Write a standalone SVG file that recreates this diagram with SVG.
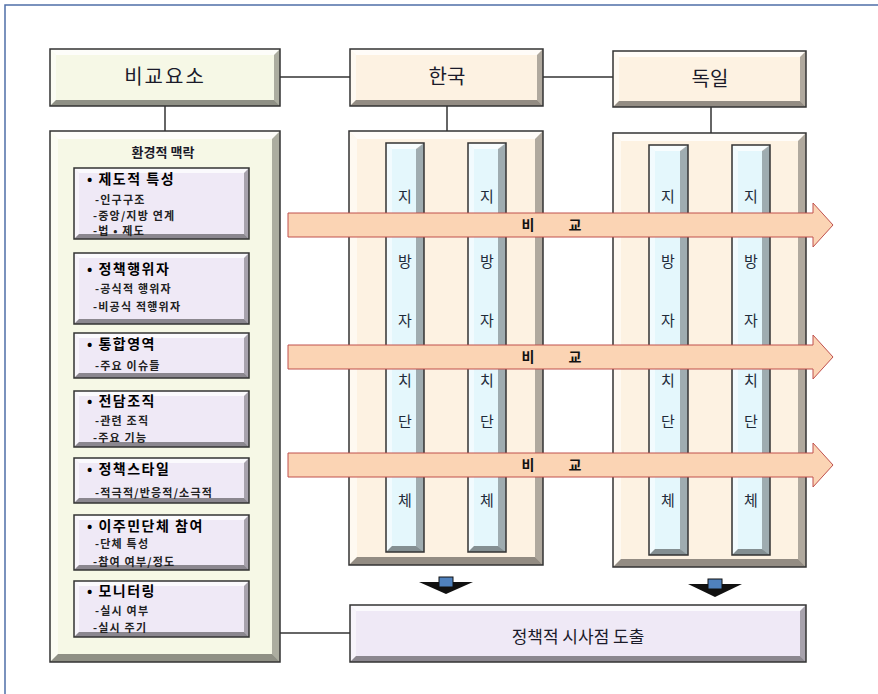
<svg xmlns="http://www.w3.org/2000/svg" width="878" height="694" viewBox="0 0 878 694">
<style>
text{font-family:"Noto Sans CJK KR","Noto Sans",sans-serif;fill:#1b1b2a}
.frame{fill:none;stroke:#4f6fa8;stroke-width:1.5}
.ln{stroke:#333;stroke-width:1.5;fill:none}
.box{stroke:#333;stroke-width:1.5;fill:none}
.t{fill:#fff;opacity:.75}
.l{fill:#fff;opacity:.5}
.r{fill:#000;opacity:.3}
.b{fill:#000;opacity:.42}
.green{fill:#f6f8e6}
.beige{fill:#fdf2e2}
.lav{fill:#efe9f6}
.cyan{fill:#e4f7fc}
.cmp{fill:#fbd4b4;stroke:#c0504d;stroke-width:1}
.h{font-size:20px;text-anchor:middle}
.tt{font-size:14px;font-weight:bold;letter-spacing:1.5px;fill:#000}
.it{font-size:11px;font-weight:bold;letter-spacing:1.2px;fill:#222}
.bar{font-size:15px;text-anchor:middle;fill:#1e2b3a}
.ct{font-size:14px;font-weight:bold;fill:#111}
.stem{fill:#4f81bd;stroke:#111;stroke-width:1}
.head{fill:#111}
</style>
<path class="frame" d="M5,694 V5 H878"/>
<g id="connectors">
<line class="ln" x1="280" y1="77" x2="350" y2="77"/>
<line class="ln" x1="543" y1="77" x2="613" y2="77"/>
<line class="ln" x1="165" y1="106" x2="165" y2="131"/>
<line class="ln" x1="447" y1="106" x2="447" y2="131"/>
<line class="ln" x1="711" y1="107" x2="711" y2="133"/>
<line class="ln" x1="280" y1="633" x2="350" y2="633"/>
<line class="ln" x1="163" y1="239" x2="163" y2="581"/>
</g>
<g id="bigyo">
<rect class="green" x="50" y="49" width="230" height="57"/>
<polygon class="t" points="50,49 280,49 274,55 56,55"/>
<polygon class="l" points="50,49 56,55 56,100 50,106"/>
<polygon class="r" points="280,49 280,106 274,100 274,55"/>
<polygon class="b" points="50,106 280,106 274,100 56,100"/>
<rect class="box" x="50" y="49" width="230" height="57"/>
<text class="h" x="165" y="84" letter-spacing="2">비교요소</text>
</g>
<g id="korea">
<rect class="beige" x="350" y="49" width="193" height="57"/>
<polygon class="t" points="350,49 543,49 537,55 356,55"/>
<polygon class="l" points="350,49 356,55 356,100 350,106"/>
<polygon class="r" points="543,49 543,106 537,100 537,55"/>
<polygon class="b" points="350,106 543,106 537,100 356,100"/>
<rect class="box" x="350" y="49" width="193" height="57"/>
<text class="h" x="447" y="84">한국</text>
</g>
<g id="germany">
<rect class="beige" x="613" y="51" width="193" height="56"/>
<polygon class="t" points="613,51 806,51 800,57 619,57"/>
<polygon class="l" points="613,51 619,57 619,101 613,107"/>
<polygon class="r" points="806,51 806,107 800,101 800,57"/>
<polygon class="b" points="613,107 806,107 800,101 619,101"/>
<rect class="box" x="613" y="51" width="193" height="56"/>
<text class="h" x="710" y="86">독일</text>
</g>
<g id="context">
<rect class="green" x="50" y="131" width="230" height="531"/>
<polygon class="t" points="50,131 280,131 272,139 58,139"/>
<polygon class="l" points="50,131 58,139 58,654 50,662"/>
<polygon class="r" points="280,131 280,662 272,654 272,139"/>
<polygon class="b" points="50,662 280,662 272,654 58,654"/>
<rect class="box" x="50" y="131" width="230" height="531"/>
<text x="163" y="157" font-size="13" font-weight="bold" text-anchor="middle">환경적 맥락</text>
</g>
<g id="s1">
<rect class="lav" x="74" y="168" width="175" height="71"/>
<polygon class="t" points="74,168 249,168 244,173 79,173"/>
<polygon class="l" points="74,168 79,173 79,234 74,239"/>
<polygon class="r" points="249,168 249,239 244,234 244,173"/>
<polygon class="b" points="74,239 249,239 244,234 79,234"/>
<rect class="box" x="74" y="168" width="175" height="71"/>
<text class="tt" x="87" y="184">• 제도적 특성</text>
<text class="it" x="95" y="204">-인구구조</text>
<text class="it" x="93" y="220">-중앙/지방 연계</text>
<text class="it" x="93" y="235">-법 • 제도</text>
</g>
<g id="s2">
<rect class="lav" x="74" y="253" width="175" height="71"/>
<polygon class="t" points="74,253 249,253 244,258 79,258"/>
<polygon class="l" points="74,253 79,258 79,319 74,324"/>
<polygon class="r" points="249,253 249,324 244,319 244,258"/>
<polygon class="b" points="74,324 249,324 244,319 79,319"/>
<rect class="box" x="74" y="253" width="175" height="71"/>
<text class="tt" x="87" y="274">• 정책행위자</text>
<text class="it" x="95" y="293">-공식적 행위자</text>
<text class="it" x="93" y="311">-비공식 적행위자</text>
</g>
<g id="s3">
<rect class="lav" x="74" y="333" width="175" height="45"/>
<polygon class="t" points="74,333 249,333 244,338 79,338"/>
<polygon class="l" points="74,333 79,338 79,373 74,378"/>
<polygon class="r" points="249,333 249,378 244,373 244,338"/>
<polygon class="b" points="74,378 249,378 244,373 79,373"/>
<rect class="box" x="74" y="333" width="175" height="45"/>
<text class="tt" x="87" y="349">• 통합영역</text>
<text class="it" x="95" y="370">-주요 이슈들</text>
</g>
<g id="s4">
<rect class="lav" x="74" y="391" width="175" height="56"/>
<polygon class="t" points="74,391 249,391 244,396 79,396"/>
<polygon class="l" points="74,391 79,396 79,442 74,447"/>
<polygon class="r" points="249,391 249,447 244,442 244,396"/>
<polygon class="b" points="74,447 249,447 244,442 79,442"/>
<rect class="box" x="74" y="391" width="175" height="56"/>
<text class="tt" x="87" y="406">• 전담조직</text>
<text class="it" x="95" y="425">-관련 조직</text>
<text class="it" x="93" y="442">-주요 기능</text>
</g>
<g id="s5">
<rect class="lav" x="74" y="458" width="175" height="45"/>
<polygon class="t" points="74,458 249,458 244,463 79,463"/>
<polygon class="l" points="74,458 79,463 79,498 74,503"/>
<polygon class="r" points="249,458 249,503 244,498 244,463"/>
<polygon class="b" points="74,503 249,503 244,498 79,498"/>
<rect class="box" x="74" y="458" width="175" height="45"/>
<text class="tt" x="87" y="474">• 정책스타일</text>
<text class="it" x="95" y="497" letter-spacing="0.3">-적극적/반응적/소극적</text>
</g>
<g id="s6">
<rect class="lav" x="74" y="515" width="175" height="55"/>
<polygon class="t" points="74,515 249,515 244,520 79,520"/>
<polygon class="l" points="74,515 79,520 79,565 74,570"/>
<polygon class="r" points="249,515 249,570 244,565 244,520"/>
<polygon class="b" points="74,570 249,570 244,565 79,565"/>
<rect class="box" x="74" y="515" width="175" height="55"/>
<text class="tt" x="87" y="531">• 이주민단체 참여</text>
<text class="it" x="95" y="548">-단체 특성</text>
<text class="it" x="93" y="566">-참여 여부/정도</text>
</g>
<g id="s7">
<rect class="lav" x="74" y="581" width="175" height="56"/>
<polygon class="t" points="74,581 249,581 244,586 79,586"/>
<polygon class="l" points="74,581 79,586 79,632 74,637"/>
<polygon class="r" points="249,581 249,637 244,632 244,586"/>
<polygon class="b" points="74,637 249,637 244,632 79,632"/>
<rect class="box" x="74" y="581" width="175" height="56"/>
<text class="tt" x="87" y="596">• 모니터링</text>
<text class="it" x="95" y="615">-실시 여부</text>
<text class="it" x="93" y="632">-실시 주기</text>
</g>
<g id="korea-col">
<rect class="beige" x="349" y="131" width="194" height="434"/>
<polygon class="t" points="349,131 543,131 535,139 357,139"/>
<polygon class="l" points="349,131 357,139 357,557 349,565"/>
<polygon class="r" points="543,131 543,565 535,557 535,139"/>
<polygon class="b" points="349,565 543,565 535,557 357,557"/>
<rect class="box" x="349" y="131" width="194" height="434"/>
</g>
<g id="germany-col">
<rect class="beige" x="613" y="133" width="193" height="434"/>
<polygon class="t" points="613,133 806,133 798,141 621,141"/>
<polygon class="l" points="613,133 621,141 621,559 613,567"/>
<polygon class="r" points="806,133 806,567 798,559 798,141"/>
<polygon class="b" points="613,567 806,567 798,559 621,559"/>
<rect class="box" x="613" y="133" width="193" height="434"/>
</g>
<g id="k1">
<rect class="cyan" x="386" y="143" width="38" height="409"/>
<polygon class="t" points="386,143 424,143 418,149 392,149"/>
<polygon class="l" points="386,143 392,149 392,546 386,552"/>
<polygon class="r" points="424,143 424,552 416,546 416,149"/>
<polygon class="b" points="386,552 424,552 416,546 392,546"/>
<rect class="box" x="386" y="143" width="38" height="409"/>
<text class="bar" x="405" y="202">지</text><text class="bar" x="405" y="267">방</text><text class="bar" x="405" y="326">자</text><text class="bar" x="405" y="386">치</text><text class="bar" x="405" y="427">단</text><text class="bar" x="405" y="506">체</text>
</g>
<g id="k2">
<rect class="cyan" x="468" y="143" width="38" height="409"/>
<polygon class="t" points="468,143 506,143 500,149 474,149"/>
<polygon class="l" points="468,143 474,149 474,546 468,552"/>
<polygon class="r" points="506,143 506,552 498,546 498,149"/>
<polygon class="b" points="468,552 506,552 498,546 474,546"/>
<rect class="box" x="468" y="143" width="38" height="409"/>
<text class="bar" x="487" y="202">지</text><text class="bar" x="487" y="267">방</text><text class="bar" x="487" y="326">자</text><text class="bar" x="487" y="386">치</text><text class="bar" x="487" y="427">단</text><text class="bar" x="487" y="506">체</text>
</g>
<g id="g1">
<rect class="cyan" x="649" y="145" width="39" height="410"/>
<polygon class="t" points="649,145 688,145 682,151 655,151"/>
<polygon class="l" points="649,145 655,151 655,549 649,555"/>
<polygon class="r" points="688,145 688,555 680,549 680,151"/>
<polygon class="b" points="649,555 688,555 680,549 655,549"/>
<rect class="box" x="649" y="145" width="39" height="410"/>
<text class="bar" x="668" y="202">지</text><text class="bar" x="668" y="267">방</text><text class="bar" x="668" y="326">자</text><text class="bar" x="668" y="386">치</text><text class="bar" x="668" y="427">단</text><text class="bar" x="668" y="506">체</text>
</g>
<g id="g2">
<rect class="cyan" x="732" y="145" width="38" height="410"/>
<polygon class="t" points="732,145 770,145 764,151 738,151"/>
<polygon class="l" points="732,145 738,151 738,549 732,555"/>
<polygon class="r" points="770,145 770,555 762,549 762,151"/>
<polygon class="b" points="732,555 770,555 762,549 738,549"/>
<rect class="box" x="732" y="145" width="38" height="410"/>
<text class="bar" x="751" y="202">지</text><text class="bar" x="751" y="267">방</text><text class="bar" x="751" y="326">자</text><text class="bar" x="751" y="386">치</text><text class="bar" x="751" y="427">단</text><text class="bar" x="751" y="506">체</text>
</g>
<g id="compare1">
<polygon class="cmp" points="288,213 813,213 813,203 833,225 813,247 813,237 288,237"/>
<text class="ct" x="528" y="230" text-anchor="middle">비</text><text class="ct" x="575" y="230" text-anchor="middle">교</text>
</g>
<g id="compare2">
<polygon class="cmp" points="288,345 813,345 813,335 833,357 813,379 813,369 288,369"/>
<text class="ct" x="528" y="362" text-anchor="middle">비</text><text class="ct" x="575" y="362" text-anchor="middle">교</text>
</g>
<g id="compare3">
<polygon class="cmp" points="288,453 813,453 813,443 833,465 813,487 813,477 288,477"/>
<text class="ct" x="528" y="470" text-anchor="middle">비</text><text class="ct" x="575" y="470" text-anchor="middle">교</text>
</g>
<g id="down1">
<polygon class="head" points="419,582 473,582 446,594"/>
<rect class="stem" x="439" y="577" width="14" height="10"/>
</g>
<g id="down2">
<polygon class="head" points="688,584 742,584 715,597"/>
<rect class="stem" x="708" y="579" width="14" height="10"/>
</g>
<g id="result">
<rect class="lav" x="350" y="605" width="456" height="57"/>
<polygon class="t" points="350,605 806,605 800,611 356,611"/>
<polygon class="l" points="350,605 356,611 356,656 350,662"/>
<polygon class="r" points="806,605 806,662 800,656 800,611"/>
<polygon class="b" points="350,662 806,662 800,656 356,656"/>
<rect class="box" x="350" y="605" width="456" height="57"/>
<text x="578" y="643" font-size="17" text-anchor="middle">정책적 시사점 도출</text>
</g>
</svg>
